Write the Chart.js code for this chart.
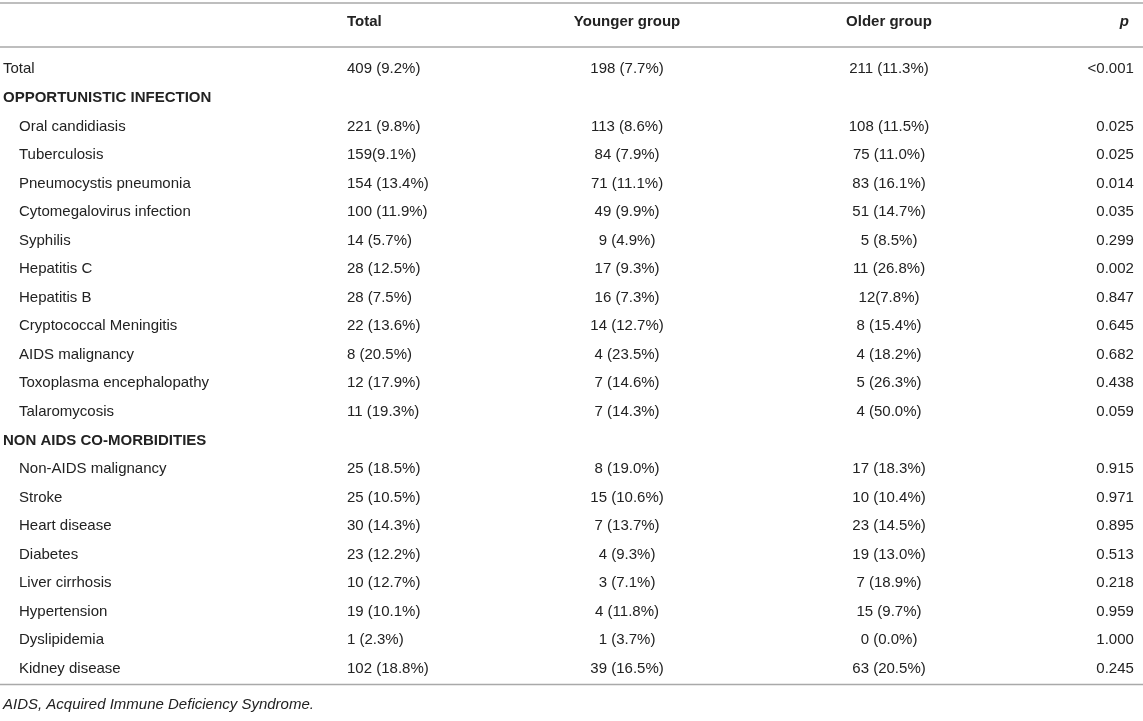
<!DOCTYPE html>
<html>
<head>
<meta charset="utf-8">
<title>Opportunistic infections and co-morbidities by age group</title>
<script src="https://cdn.jsdelivr.net/npm/chart.js@4.4.0/dist/chart.umd.min.js"></script>
<style>
  html, body { margin: 0; padding: 0; background: #fff; }
  #wrap { width: 1143px; height: 721px; position: relative; }
</style>
</head>
<body>
<div id="wrap"><canvas id="tableChart"></canvas></div>
<script>
// Table content
const columnHeaders = ['Total', 'Younger group', 'Older group', 'p'];

const rowLabels = [
  'Total',
  'OPPORTUNISTIC INFECTION',
  'Oral candidiasis',
  'Tuberculosis',
  'Pneumocystis pneumonia',
  'Cytomegalovirus infection',
  'Syphilis',
  'Hepatitis C',
  'Hepatitis B',
  'Cryptococcal Meningitis',
  'AIDS malignancy',
  'Toxoplasma encephalopathy',
  'Talaromycosis',
  'NON AIDS CO-MORBIDITIES',
  'Non-AIDS malignancy',
  'Stroke',
  'Heart disease',
  'Diabetes',
  'Liver cirrhosis',
  'Hypertension',
  'Dyslipidemia',
  'Kidney disease'
];

const sectionRows = ['OPPORTUNISTIC INFECTION', 'NON AIDS CO-MORBIDITIES'];

const totalCol = [
  '409 (9.2%)', '',
  '221 (9.8%)', '159(9.1%)', '154 (13.4%)', '100 (11.9%)', '14 (5.7%)', '28 (12.5%)',
  '28 (7.5%)', '22 (13.6%)', '8 (20.5%)', '12 (17.9%)', '11 (19.3%)',
  '',
  '25 (18.5%)', '25 (10.5%)', '30 (14.3%)', '23 (12.2%)', '10 (12.7%)', '19 (10.1%)',
  '1 (2.3%)', '102 (18.8%)'
];

const youngerCol = [
  '198 (7.7%)', '',
  '113 (8.6%)', '84 (7.9%)', '71 (11.1%)', '49 (9.9%)', '9 (4.9%)', '17 (9.3%)',
  '16 (7.3%)', '14 (12.7%)', '4 (23.5%)', '7 (14.6%)', '7 (14.3%)',
  '',
  '8 (19.0%)', '15 (10.6%)', '7 (13.7%)', '4 (9.3%)', '3 (7.1%)', '4 (11.8%)',
  '1 (3.7%)', '39 (16.5%)'
];

const olderCol = [
  '211 (11.3%)', '',
  '108 (11.5%)', '75 (11.0%)', '83 (16.1%)', '51 (14.7%)', '5 (8.5%)', '11 (26.8%)',
  '12(7.8%)', '8 (15.4%)', '4 (18.2%)', '5 (26.3%)', '4 (50.0%)',
  '',
  '17 (18.3%)', '10 (10.4%)', '23 (14.5%)', '19 (13.0%)', '7 (18.9%)', '15 (9.7%)',
  '0 (0.0%)', '63 (20.5%)'
];

const pValues = [
  '<0.001', '',
  '0.025', '0.025', '0.014', '0.035', '0.299', '0.002',
  '0.847', '0.645', '0.682', '0.438', '0.059',
  '',
  '0.915', '0.971', '0.895', '0.513', '0.218', '0.959',
  '1.000', '0.245'
];

const footnote = 'AIDS, Acquired Immune Deficiency Syndrome.';

// Layout: column anchors on a 0-100 horizontal scale, and how text hangs from them
const labelAnchor = 0.26;
const columnAnchors = [30.36, 54.86, 77.78, 99.2];
const columnAlign = ['left', 'center', 'center', 'right'];
const FONT = '"Liberation Sans", Arial, Helvetica, sans-serif';
const TEXT_COLOR = '#222';
const RULE_COLOR = '#a9a9a9';

// Build one dataset per column; each point is a table cell
const columnValues = [totalCol, youngerCol, olderCol, pValues];
const datasets = columnValues.map((values, c) => ({
  label: columnHeaders[c],
  data: rowLabels.map(row => ({ x: columnAnchors[c], y: row })),
  cellText: values,
  textAlign: columnAlign[c],
  pointRadius: 0,
  pointHoverRadius: 0
}));

// Draws rules, headers, row labels and cell text
const tableTextPlugin = {
  id: 'tableText',
  afterDatasetsDraw(chart) {
    const { ctx, chartArea, scales: { x, y } } = chart;
    const left = 0;
    const right = chart.width;
    ctx.save();

    // horizontal rules
    ctx.strokeStyle = RULE_COLOR;
    ctx.lineWidth = 1.6;
    [3, chartArea.top - 8, chartArea.bottom + 1.5].forEach(ly => {
      ctx.beginPath();
      ctx.moveTo(left, ly);
      ctx.lineTo(right, ly);
      ctx.stroke();
    });

    ctx.fillStyle = TEXT_COLOR;
    ctx.textBaseline = 'middle';

    // column headers
    const headerY = chartArea.top - 33;
    columnHeaders.forEach((h, c) => {
      ctx.textAlign = columnAlign[c];
      ctx.font = (h === 'p' ? 'italic bold 15px ' : 'bold 15px ') + FONT;
      const hx = x.getPixelForValue(columnAnchors[c]) - (h === 'p' ? 5 : 0);
      ctx.fillText(h, hx, headerY);
    });

    // row labels
    ctx.textAlign = 'left';
    rowLabels.forEach((label, i) => {
      const isSection = sectionRows.includes(label);
      const indent = (isSection || i === 0) ? 0 : 16;
      ctx.font = (isSection ? 'bold 15px ' : '15px ') + FONT;
      ctx.fillText(label, x.getPixelForValue(labelAnchor) + indent, y.getPixelForValue(i));
    });

    // cells
    ctx.font = '15px ' + FONT;
    chart.data.datasets.forEach((ds, di) => {
      const meta = chart.getDatasetMeta(di);
      ctx.textAlign = ds.textAlign;
      meta.data.forEach((pt, i) => {
        if (ds.cellText[i]) ctx.fillText(ds.cellText[i], pt.x, pt.y);
      });
    });

    // footnote
    ctx.textAlign = 'left';
    ctx.font = 'italic 15px ' + FONT;
    ctx.fillText(footnote, x.getPixelForValue(labelAnchor), chartArea.bottom + 22);

    ctx.restore();
  }
};

document.addEventListener('DOMContentLoaded', function() {
  const ctx = document.getElementById('tableChart').getContext('2d');
  new Chart(ctx, {
    type: 'scatter',
    data: { datasets },
    options: {
      responsive: true,
      maintainAspectRatio: false,
      animation: false,
      events: [],
      layout: { padding: { top: 55, bottom: 38, left: 0, right: 0 } },
      plugins: {
        legend: { display: false },
        tooltip: { enabled: false }
      },
      scales: {
        x: { type: 'linear', min: 0, max: 100, display: false },
        y: { type: 'category', labels: rowLabels, offset: true, display: false }
      }
    },
    plugins: [tableTextPlugin]
  });
});
</script>
</body>
</html>
